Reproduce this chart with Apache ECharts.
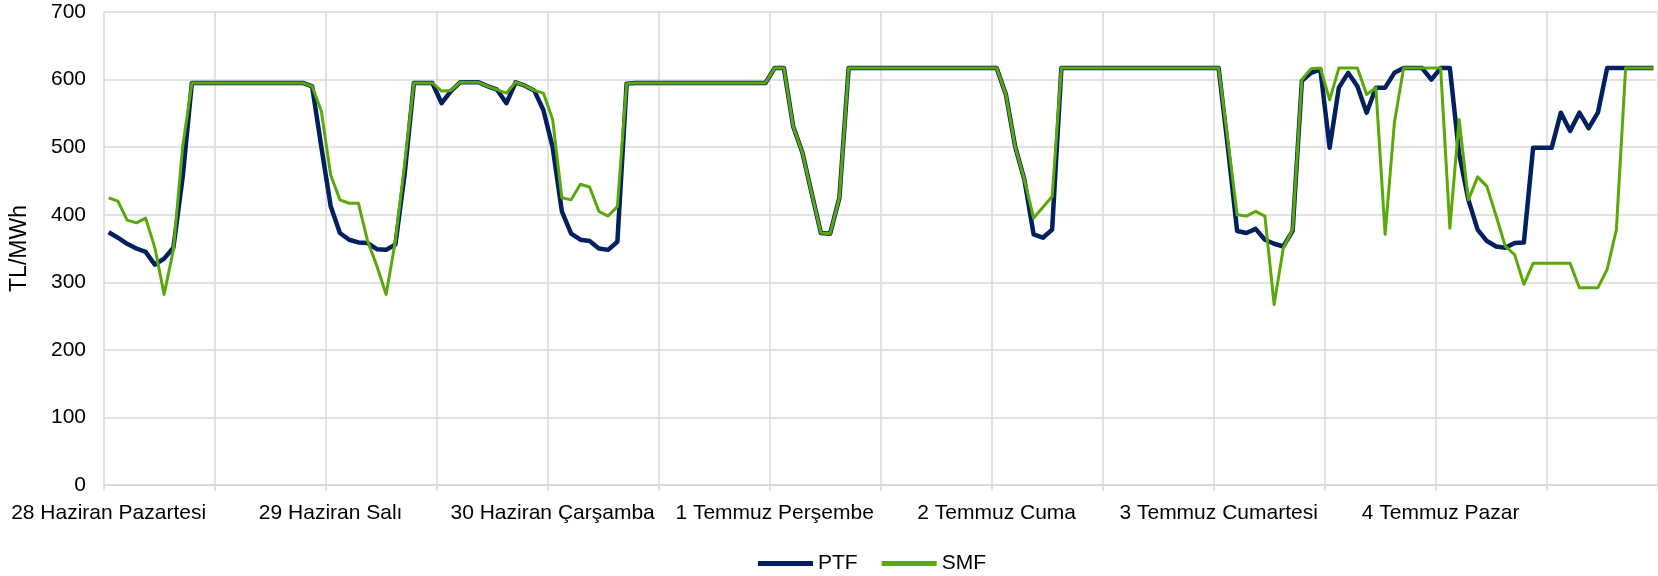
<!DOCTYPE html>
<html>
<head>
<meta charset="utf-8">
<script src="https://cdn.jsdelivr.net/npm/echarts@6/dist/echarts.min.js"></script>
<style>
  html, body { margin: 0; padding: 0; background: #fff; }
  #chart { width: 1658px; height: 576px; }
</style>
</head>
<body>
<div id="chart"></div>
<script>
// gün etiketleri (her gün 24 saat)
var days = ['28 Haziran Pazartesi', '29 Haziran Salı', '30 Haziran Çarşamba', '1 Temmuz Perşembe',
    '2 Temmuz Cuma', '3 Temmuz Cumartesi', '4 Temmuz Pazar'];
var hours = ['00', '01', '02', '03', '04', '05', '06', '07', '08', '09', '10', '11',
    '12', '13', '14', '15', '16', '17', '18', '19', '20', '21', '22', '23'];

// PTF (TL/MWh), saatlik
var ptf = [
    374, 366, 357, 350, 345, 326, 335, 351, 455, 595, 595, 595, 595, 595, 595, 595, 595, 595, 595, 595, 595, 595, 590, 500,
    413, 373, 363, 359, 358, 349, 348, 356, 460, 595, 595, 595, 565, 583, 596, 596, 596, 590, 585, 565, 596, 591, 584, 555,
    500, 405, 372, 363, 361, 350, 348, 360, 594, 595, 595, 595, 595, 595, 595, 595, 595, 595, 595, 595, 595, 595, 595, 595,
    617, 617, 531, 492, 432, 373, 372, 425, 617, 617, 617, 617, 617, 617, 617, 617, 617, 617, 617, 617, 617, 617, 617, 617,
    617, 578, 501, 452, 371, 366, 378, 617, 617, 617, 617, 617, 617, 617, 617, 617, 617, 617, 617, 617, 617, 617, 617, 617,
    617, 500, 376, 373, 379, 363, 357, 353, 376, 598, 610, 615, 499, 588, 610, 590, 551, 588, 588, 610, 617, 617, 617, 600,
    617, 617, 490, 422, 378, 361, 353, 351, 358, 359, 499, 499, 499, 551, 524, 551, 528, 551, 617, 617, 617, 617, 617, 617
];

// SMF (TL/MWh), saatlik
var smf = [
    425, 420, 392, 388, 395, 351, 282, 348, 500, 595, 595, 595, 595, 595, 595, 595, 595, 595, 595, 595, 595, 595, 590, 553,
    459, 422, 417, 417, 361, 324, 282, 361, 475, 595, 595, 595, 583, 584, 596, 596, 596, 590, 585, 580, 596, 591, 584, 580,
    541, 425, 422, 445, 441, 405, 398, 412, 594, 595, 595, 595, 595, 595, 595, 595, 595, 595, 595, 595, 595, 595, 595, 595,
    617, 617, 531, 492, 432, 373, 372, 425, 617, 617, 617, 617, 617, 617, 617, 617, 617, 617, 617, 617, 617, 617, 617, 617,
    617, 578, 501, 452, 395, 411, 427, 617, 617, 617, 617, 617, 617, 617, 617, 617, 617, 617, 617, 617, 617, 617, 617, 617,
    617, 510, 400, 398, 405, 398, 267, 351, 378, 600, 616, 617, 570, 617, 617, 617, 578, 588, 371, 536, 617, 617, 617, 617,
    617, 380, 541, 422, 456, 442, 398, 353, 341, 297, 328, 328, 328, 328, 328, 292, 292, 292, 319, 378, 617, 617, 617, 617
];

var categories = [];
days.forEach(function (d) {
    hours.forEach(function (h) {
        categories.push(d + '|' + h);
    });
});

var font = "'Liberation Sans', Arial, sans-serif";
var chart = echarts.init(document.getElementById('chart'));
var option = {
    animation: false,
    textStyle: {fontFamily: font},
    grid: {
        left: 104,
        top: 12,
        width: 1561,
        height: 473
    },
    legend: {
        left: 753,
        top: 548,
        icon: 'rect',
        itemWidth: 55,
        itemHeight: 5,
        itemGap: 24,
        textStyle: {fontSize: 21, color: '#000', fontFamily: font},
        data: ['PTF', 'SMF']
    },
    xAxis: {
        type: 'category',
        boundaryGap: true,
        data: categories,
        axisLine: {lineStyle: {color: '#D9D9D9', width: 1.5}},
        axisTick: {show: true, interval: 11, length: 6, lineStyle: {color: '#D9D9D9', width: 1.5}},
        splitLine: {show: true, interval: 11, lineStyle: {color: '#D9D9D9', width: 1.5}},
        axisLabel: {
            interval: 23,
            margin: 18,
            fontSize: 21,
            color: '#000',
            fontFamily: font,
            formatter: function (v) { return v.split('|')[0]; }
        }
    },
    yAxis: {
        type: 'value',
        min: 0,
        max: 700,
        interval: 100,
        name: 'TL/MWh',
        nameLocation: 'middle',
        nameRotate: 90,
        nameGap: 73,
        nameTextStyle: {fontSize: 23, color: '#000', fontFamily: font},
        axisLine: {show: false},
        axisTick: {show: false},
        splitLine: {lineStyle: {color: '#D9D9D9', width: 1.5}},
        axisLabel: {margin: 18, fontSize: 21, color: '#000', fontFamily: font}
    },
    series: [
        {
            name: 'PTF',
            type: 'line',
            data: ptf,
            showSymbol: false,
            symbol: 'none',
            itemStyle: {color: '#002060'},
            lineStyle: {color: '#002060', width: 4.5, join: 'round'}
        },
        {
            name: 'SMF',
            type: 'line',
            data: smf,
            showSymbol: false,
            symbol: 'none',
            itemStyle: {color: '#5AA80A'},
            lineStyle: {color: '#5AA80A', width: 3, join: 'round'}
        }
    ]
};
chart.setOption(option);
</script>
</body>
</html>
